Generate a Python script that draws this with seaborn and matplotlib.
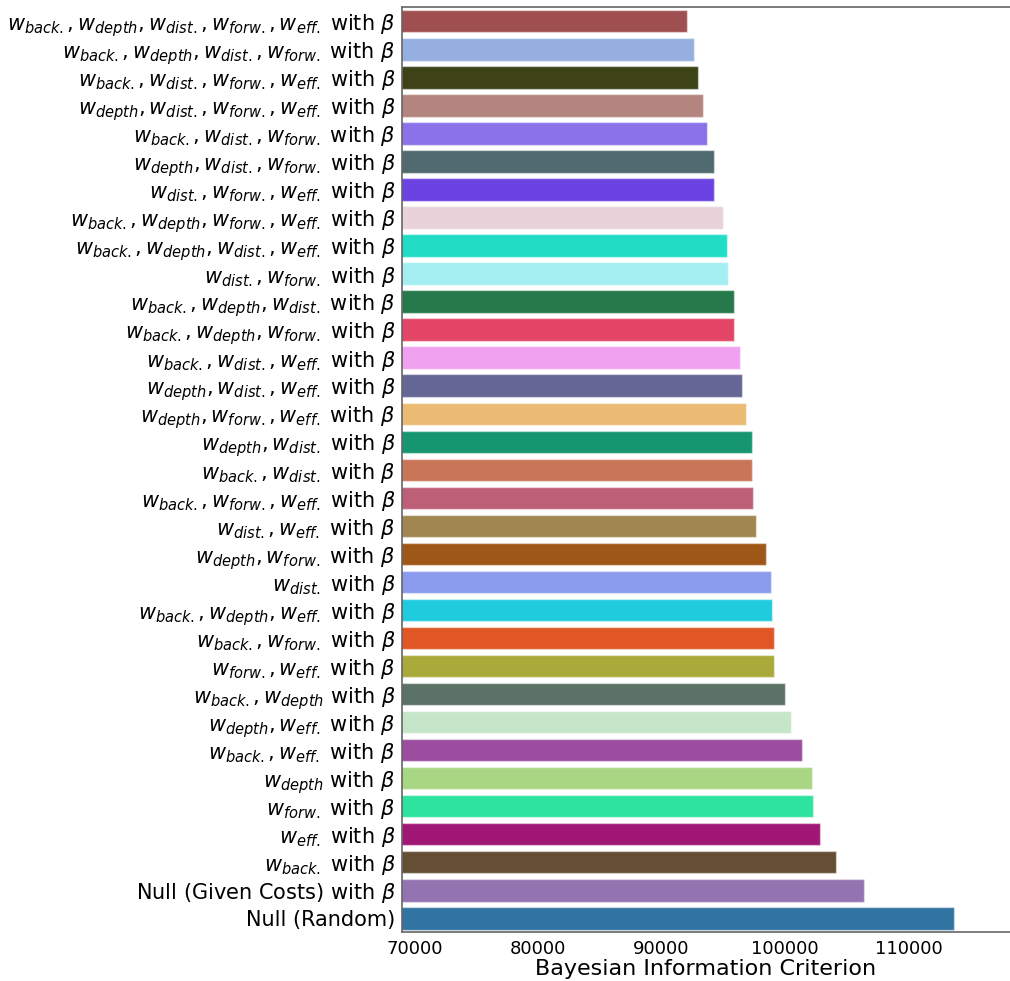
import matplotlib
matplotlib.use("Agg")
import matplotlib.pyplot as plt
import seaborn as sns
import pandas as pd

# Model labels (top to bottom) and their BIC scores
models = [
    r"$w_{back.}, w_{depth}, w_{dist.}, w_{forw.}, w_{eff.}$ with $\beta$",
    r"$w_{back.}, w_{depth}, w_{dist.}, w_{forw.}$ with $\beta$",
    r"$w_{back.}, w_{dist.}, w_{forw.}, w_{eff.}$ with $\beta$",
    r"$w_{depth}, w_{dist.}, w_{forw.}, w_{eff.}$ with $\beta$",
    r"$w_{back.}, w_{dist.}, w_{forw.}$ with $\beta$",
    r"$w_{depth}, w_{dist.}, w_{forw.}$ with $\beta$",
    r"$w_{dist.}, w_{forw.}, w_{eff.}$ with $\beta$",
    r"$w_{back.}, w_{depth}, w_{forw.}, w_{eff.}$ with $\beta$",
    r"$w_{back.}, w_{depth}, w_{dist.}, w_{eff.}$ with $\beta$",
    r"$w_{dist.}, w_{forw.}$ with $\beta$",
    r"$w_{back.}, w_{depth}, w_{dist.}$ with $\beta$",
    r"$w_{back.}, w_{depth}, w_{forw.}$ with $\beta$",
    r"$w_{back.}, w_{dist.}, w_{eff.}$ with $\beta$",
    r"$w_{depth}, w_{dist.}, w_{eff.}$ with $\beta$",
    r"$w_{depth}, w_{forw.}, w_{eff.}$ with $\beta$",
    r"$w_{depth}, w_{dist.}$ with $\beta$",
    r"$w_{back.}, w_{dist.}$ with $\beta$",
    r"$w_{back.}, w_{forw.}, w_{eff.}$ with $\beta$",
    r"$w_{dist.}, w_{eff.}$ with $\beta$",
    r"$w_{depth}, w_{forw.}$ with $\beta$",
    r"$w_{dist.}$ with $\beta$",
    r"$w_{back.}, w_{depth}, w_{eff.}$ with $\beta$",
    r"$w_{back.}, w_{forw.}$ with $\beta$",
    r"$w_{forw.}, w_{eff.}$ with $\beta$",
    r"$w_{back.}, w_{depth}$ with $\beta$",
    r"$w_{depth}, w_{eff.}$ with $\beta$",
    r"$w_{back.}, w_{eff.}$ with $\beta$",
    r"$w_{depth}$ with $\beta$",
    r"$w_{forw.}$ with $\beta$",
    r"$w_{eff.}$ with $\beta$",
    r"$w_{back.}$ with $\beta$",
    r"Null (Given Costs) with $\beta$",
    "Null (Random)",
]

bic = [
    92030, 92650, 92950, 93360, 93660, 94230, 94280, 94980, 95290, 95390,
    95850, 95900, 96390, 96500, 96800, 97320, 97300, 97370, 97670, 98420,
    98830, 98940, 99070, 99130, 100000, 100460, 101350, 102160, 102220,
    102850, 104120, 106420, 113680,
]

bar_colors = [
    "#a04f50", "#95b0e0", "#3e4217", "#b3857e", "#8c72e8", "#506a6f",
    "#6c42e2", "#e8d3da", "#22ddc6", "#a5eef2", "#25794a", "#e34567",
    "#f0a2f0", "#646696", "#ebbb73", "#159670", "#c87558", "#bd5f76",
    "#a2864f", "#9e5716", "#8a9aec", "#20cbde", "#e05624", "#aaaa3a",
    "#5d7267", "#c6e6ca", "#9d4d9f", "#a9d683", "#2ee2a0", "#a11775",
    "#654e36", "#9374b0", "#3274a1",
]

df = pd.DataFrame({"model": models, "bic": bic})

sns.set_style("white")
plt.rcParams["font.family"] = ["DejaVu Sans"]
plt.rcParams["text.color"] = "black"
plt.rcParams["axes.labelcolor"] = "black"
plt.rcParams["xtick.labelcolor"] = "black"
plt.rcParams["ytick.labelcolor"] = "black"

fig = plt.figure(figsize=(10.1, 9.81), dpi=100)
ax = fig.add_axes([0.398, 0.0496, 0.602, 0.9430])

sns.barplot(
    data=df, y="model", x="bic", hue="model", palette=bar_colors,
    saturation=1, legend=False, orient="h", width=0.8,
    edgecolor=(1, 1, 1, 0.45), linewidth=1, ax=ax,
)

ax.set_xlim(69000, 118200)
ax.set_xticks([70000, 80000, 90000, 100000, 110000])
ax.set_ylabel("")
ax.set_xlabel("Bayesian Information Criterion", fontsize=16, labelpad=1)
ax.tick_params(axis="x", labelsize=13, length=3.5, color="#666666", pad=2,
               labelcolor="black")
ax.tick_params(axis="y", labelsize=15, length=3, color="#666666", pad=1.5,
               labelcolor="black")

for side in ["top", "left", "bottom"]:
    ax.spines[side].set_visible(True)
    ax.spines[side].set_color("#666666")
    ax.spines[side].set_linewidth(1.2)
ax.spines["right"].set_visible(False)

fig.savefig("out.png", dpi=100)
